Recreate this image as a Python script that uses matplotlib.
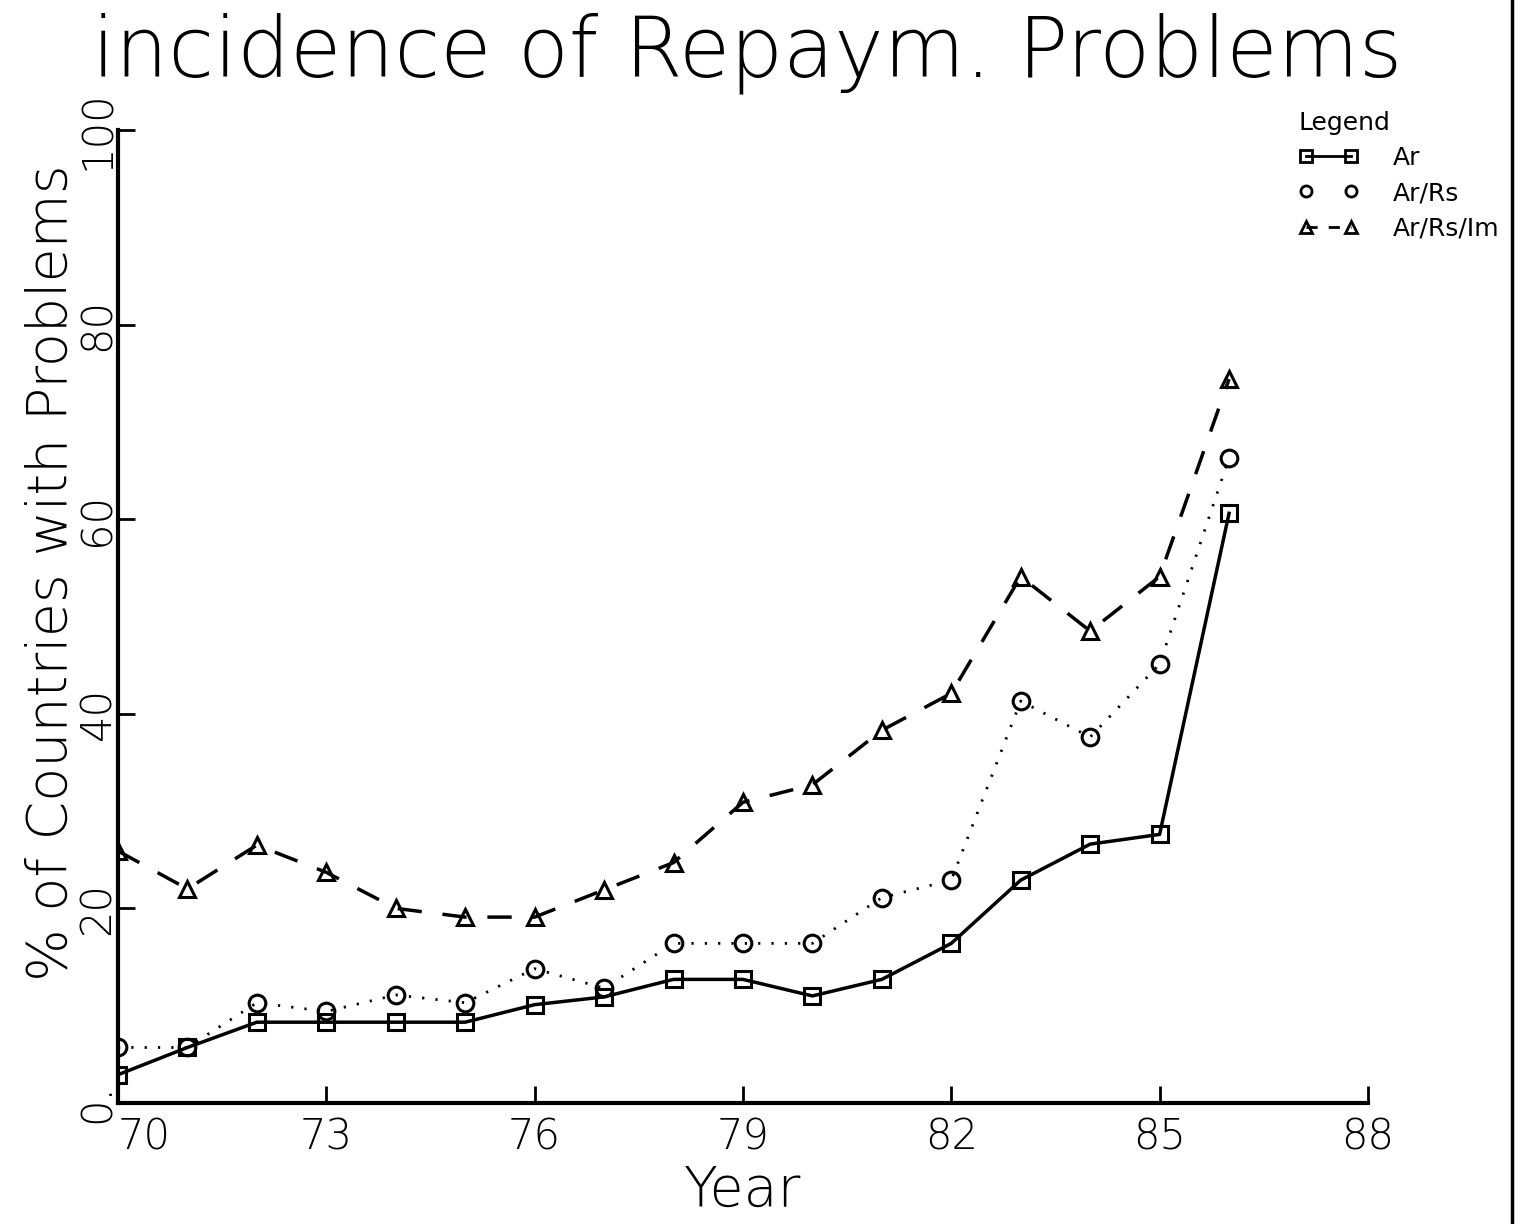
import matplotlib.pyplot as plt
from matplotlib.lines import Line2D

years = [70, 71, 72, 73, 74, 75, 76, 77, 78, 79, 80, 81, 82, 83, 84, 85, 86]
ar = [2.9, 5.7, 8.3, 8.3, 8.3, 8.3, 10.1, 10.9, 12.7, 12.7, 11.0, 12.7, 16.4, 22.9, 26.6, 27.6, 60.6]
ar_rs = [5.7, 5.7, 10.3, 9.4, 11.1, 10.3, 13.8, 11.8, 16.4, 16.4, 16.4, 21.1, 22.9, 41.3, 37.6, 45.1, 66.3]
ar_rs_im = [25.9, 22.0, 26.5, 23.7, 20.0, 19.1, 19.1, 21.9, 24.7, 30.9, 32.7, 38.3, 42.1, 54.1, 48.5, 54.1, 74.4]

xticks = [70, 73, 76, 79, 82, 85, 88]
yticks = [0, 20, 40, 60, 80, 100]
ytick_labels = ['0.', '20', '40', '60', '80', '100']

plt.rcParams['font.family'] = ['DejaVu Sans']

fig = plt.figure(figsize=(15.24, 12.24), dpi=100)
ax = fig.add_axes([0.0774, 0.0989, 0.8202, 0.7949])

ms = 12
ax.plot(years, ar, color='black', lw=2.5, marker='s', ms=ms, mfc='none', mew=2.2,
        label='Ar')
ax.plot(years, ar_rs, color='black', lw=2.0, dashes=(0.8, 4), marker='o', ms=ms,
        mfc='none', mew=2.2, label='Ar/Rs')
ax.plot(years, ar_rs_im, color='black', lw=2.5, dashes=(7, 6), marker='^', ms=ms,
        mfc='none', mew=2.2, label='Ar/Rs/Im')

ax.set_xlim(70, 88)
ax.set_ylim(0, 100)
ax.set_xticks(xticks)
ax.set_xticklabels([str(t) for t in xticks], fontsize=30, fontweight='light')
ax.get_xticklabels()[0].set_ha('left')
ax.set_yticks(yticks)
ax.set_yticklabels(ytick_labels, fontsize=30, rotation=90, va='center',
                   fontweight='light')
ax.tick_params(direction='in', length=12, width=2)
ax.tick_params(axis='y', pad=0)
ax.tick_params(axis='x', pad=10)

for side in ['top', 'right']:
    ax.spines[side].set_visible(False)
for side in ['left', 'bottom']:
    ax.spines[side].set_linewidth(3)

ax.set_xlabel('Year', fontsize=40, fontweight='light', labelpad=4)
ax.set_ylabel('% of Countries with Problems', fontsize=40, fontweight='light')
ax.yaxis.set_label_coords(-0.031, 0.545)

fig.text(0.49, 0.99, 'incidence of Repaym. Problems', ha='center', va='top',
         fontsize=60, fontweight='light')

# legend
handles = [
    Line2D([], [], color='black', lw=2, marker='s', ms=8, mfc='none', mew=2),
    Line2D([], [], color='black', lw=0, marker='o', ms=8, mfc='none', mew=2),
    Line2D([], [], color='black', lw=2, dashes=(4, 4), marker='^', ms=8, mfc='none', mew=2),
]
leg = fig.legend(handles, ['Ar', 'Ar/Rs', 'Ar/Rs/Im'], loc='upper left',
                 bbox_to_anchor=(0.837, 0.928), frameon=False, fontsize=18,
                 title='Legend', title_fontsize=18, handlelength=2.4,
                 handletextpad=1.4, labelspacing=0.45, alignment='left',
                 numpoints=2)

# right border of the scanned page
fig.add_artist(Line2D([0.992, 0.992], [0.0, 1.0], color='black', lw=2.5,
                      transform=fig.transFigure))

fig.savefig('out.png', dpi=100)
